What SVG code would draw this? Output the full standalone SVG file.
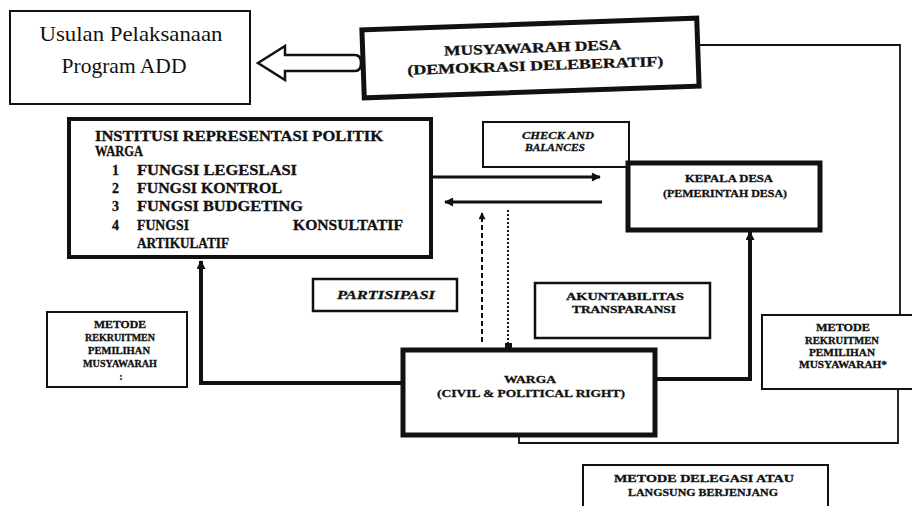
<svg xmlns="http://www.w3.org/2000/svg" width="912" height="506" viewBox="0 0 912 506">
<style>
.bx{fill:#fff;stroke:#111}
.c{font-family:"Liberation Serif",serif;font-weight:bold;fill:#111;stroke:#111;stroke-width:0.3;dominant-baseline:central}
.m{text-anchor:middle}
.i{font-style:italic}
.ln{fill:none;stroke:#111;stroke-linejoin:miter}
</style>
<defs>
<marker id="ah" viewBox="0 0 10 10" refX="9" refY="5" markerWidth="12" markerHeight="9" markerUnits="userSpaceOnUse" orient="auto"><path d="M0,0 L10,5 L0,10 z" fill="#111"/></marker>
<marker id="ahs" viewBox="0 0 10 10" refX="9" refY="5" markerWidth="8" markerHeight="7" markerUnits="userSpaceOnUse" orient="auto"><path d="M0,0 L10,5 L0,10 z" fill="#111"/></marker>
</defs>
<rect width="912" height="506" fill="#fff"/>

<g id="connectors">
<path class="ln" d="M258,63 L285,46 L285,55 L355,55 Q361,55 361,63 Q361,71 355,71 L285,71 L285,80 Z" stroke-width="2.5" fill="#fff"/>
<path class="ln" d="M700,45 L900,45 L900,316" stroke-width="1.8"/>
<path class="ln" d="M898,389 L898,443 L519,443 L519,435" stroke-width="1.8"/>
<path class="ln" d="M403,383 L201,383 L201,261" stroke-width="4" marker-end="url(#ah)"/>
<path class="ln" d="M655,379 L750,379 L750,232" stroke-width="4" marker-end="url(#ah)"/>
<path class="ln" d="M433,177 L600,177" stroke-width="3" marker-end="url(#ah)"/>
<path class="ln" d="M602,202 L445,202" stroke-width="3" marker-end="url(#ah)"/>
<path class="ln" d="M482,342 L482,213" stroke-width="2" stroke-dasharray="5 3" marker-end="url(#ahs)"/>
<path class="ln" d="M508,210 L508,346" stroke-width="2" stroke-dasharray="2 2"/>
<rect x="505" y="343" width="7" height="7" fill="#111"/>
</g>

<g id="usulan">
<rect class="bx" x="10" y="11" width="240" height="93" stroke-width="2"/>
<text x="131" y="41" text-anchor="middle" font-family="Liberation Serif, serif" font-size="21.5" fill="#111" textLength="183" lengthAdjust="spacingAndGlyphs">Usulan Pelaksanaan</text>
<text x="124" y="73" text-anchor="middle" font-family="Liberation Serif, serif" font-size="21.5" fill="#111">Program ADD</text>
</g>

<g id="musyawarah" transform="rotate(-2 530 58)">
<rect class="bx" x="363" y="24" width="335" height="68" stroke-width="5"/>
<text class="c m" x="533" y="48" font-size="14" textLength="177" lengthAdjust="spacingAndGlyphs">MUSYAWARAH DESA</text>
<text class="c m" x="535" y="66" font-size="14" textLength="256" lengthAdjust="spacingAndGlyphs">(DEMOKRASI DELEBERATIF)</text>
</g>

<g id="institusi">
<rect class="bx" x="69" y="119" width="362" height="138" stroke-width="4"/>
<text class="c" x="95" y="136" font-size="14" textLength="288" lengthAdjust="spacingAndGlyphs">INSTITUSI REPRESENTASI POLITIK</text>
<text class="c" x="95" y="151" font-size="14" textLength="48" lengthAdjust="spacingAndGlyphs">WARGA</text>
<text class="c" x="112" y="170" font-size="14">1</text>
<text class="c" x="137" y="170" font-size="14" textLength="160" lengthAdjust="spacingAndGlyphs">FUNGSI LEGESLASI</text>
<text class="c" x="112" y="188" font-size="14">2</text>
<text class="c" x="137" y="188" font-size="14" textLength="145" lengthAdjust="spacingAndGlyphs">FUNGSI KONTROL</text>
<text class="c" x="112" y="206" font-size="14">3</text>
<text class="c" x="137" y="206" font-size="14" textLength="166" lengthAdjust="spacingAndGlyphs">FUNGSI BUDGETING</text>
<text class="c" x="112" y="225" font-size="14">4</text>
<text class="c" x="137" y="225" font-size="14" textLength="52" lengthAdjust="spacingAndGlyphs">FUNGSI</text>
<text class="c" x="293" y="225" font-size="14" textLength="110" lengthAdjust="spacingAndGlyphs">KONSULTATIF</text>
<text class="c" x="137" y="243" font-size="14" textLength="92" lengthAdjust="spacingAndGlyphs">ARTIKULATIF</text>
</g>

<g id="check">
<rect class="bx" x="483" y="122" width="146" height="45" stroke-width="2"/>
<text class="c m i" x="558" y="135" font-size="10.5" textLength="72" lengthAdjust="spacingAndGlyphs">CHECK AND</text>
<text class="c m i" x="555" y="147" font-size="10.5" textLength="60" lengthAdjust="spacingAndGlyphs">BALANCES</text>
</g>

<g id="kepala">
<rect class="bx" x="628" y="163" width="192" height="67" stroke-width="5"/>
<text class="c m" x="729" y="178" font-size="11" textLength="88" lengthAdjust="spacingAndGlyphs">KEPALA DESA</text>
<text class="c m" x="725" y="193" font-size="11" textLength="124" lengthAdjust="spacingAndGlyphs">(PEMERINTAH DESA)</text>
</g>

<g id="partisipasi">
<rect class="bx" x="313" y="279" width="144" height="32" stroke-width="2.5"/>
<text class="c m i" x="386" y="295" font-size="12.5" textLength="98" lengthAdjust="spacingAndGlyphs">PARTISIPASI</text>
</g>

<g id="akuntabilitas">
<rect class="bx" x="535" y="283" width="175" height="55" stroke-width="2.5"/>
<text class="c m" x="625" y="296" font-size="11" textLength="118" lengthAdjust="spacingAndGlyphs">AKUNTABILITAS</text>
<text class="c m" x="624" y="309" font-size="11" textLength="104" lengthAdjust="spacingAndGlyphs">TRANSPARANSI</text>
</g>

<g id="metode-kiri">
<rect class="bx" x="47" y="312" width="140" height="75" stroke-width="2"/>
<text class="c m" x="120" y="324" font-size="10" textLength="52" lengthAdjust="spacingAndGlyphs">METODE</text>
<text class="c m" x="120" y="337" font-size="10" textLength="70" lengthAdjust="spacingAndGlyphs">REKRUITMEN</text>
<text class="c m" x="119" y="350" font-size="10" textLength="62" lengthAdjust="spacingAndGlyphs">PEMILIHAN</text>
<text class="c m" x="120" y="363" font-size="10" textLength="74" lengthAdjust="spacingAndGlyphs">MUSYAWARAH</text>
<text class="c m" x="121" y="376" font-size="10">:</text>
</g>

<g id="metode-kanan">
<rect class="bx" x="762" y="315" width="160" height="74" stroke-width="2"/>
<text class="c m" x="843" y="327" font-size="10" textLength="54" lengthAdjust="spacingAndGlyphs">METODE</text>
<text class="c m" x="842" y="340" font-size="10" textLength="74" lengthAdjust="spacingAndGlyphs">REKRUITMEN</text>
<text class="c m" x="842" y="352" font-size="10" textLength="66" lengthAdjust="spacingAndGlyphs">PEMILIHAN</text>
<text class="c m" x="843" y="364" font-size="10" textLength="88" lengthAdjust="spacingAndGlyphs">MUSYAWARAH*</text>
</g>

<g id="warga">
<rect class="bx" x="403" y="350" width="252" height="85" stroke-width="5"/>
<text class="c m" x="530" y="379" font-size="11" textLength="52" lengthAdjust="spacingAndGlyphs">WARGA</text>
<text class="c m" x="531" y="393" font-size="11" textLength="188" lengthAdjust="spacingAndGlyphs">(CIVIL &amp; POLITICAL RIGHT)</text>
</g>

<g id="metode-delegasi">
<rect class="bx" x="583" y="465" width="245" height="60" stroke-width="2"/>
<text class="c m" x="704" y="478" font-size="10.5" textLength="180" lengthAdjust="spacingAndGlyphs">METODE DELEGASI ATAU</text>
<text class="c m" x="703" y="492" font-size="10.5" textLength="150" lengthAdjust="spacingAndGlyphs">LANGSUNG  BERJENJANG</text>
</g>
</svg>
